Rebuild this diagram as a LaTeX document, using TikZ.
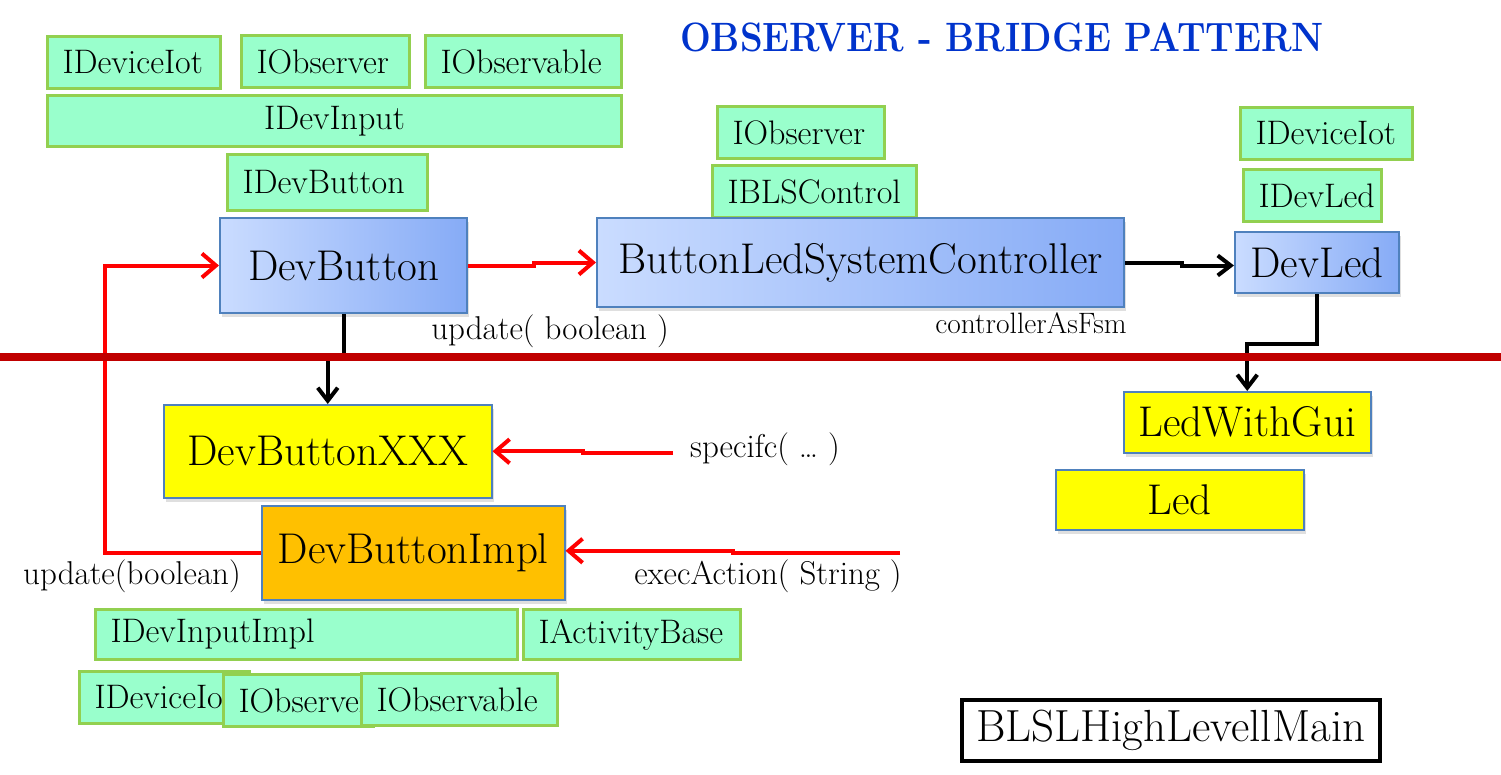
\documentclass[tikz,border=0pt]{standalone}
\usetikzlibrary{arrows.meta,shadows}
\definecolor{ifcfill}{HTML}{99FFCC}
\definecolor{ifcline}{HTML}{92D050}
\definecolor{boxline}{HTML}{4F81BD}
\definecolor{blueL}{HTML}{CADCFF}
\definecolor{blueR}{HTML}{86ABF6}
\definecolor{devyellow}{HTML}{FFFF00}
\definecolor{devorange}{HTML}{FFC000}
\definecolor{barred}{HTML}{C00000}
\definecolor{titleblue}{HTML}{0033CC}
\newcommand\classfont{\fontsize{43}{48}\selectfont}
\newcommand\ifcfont{\fontsize{34}{38}\selectfont}
\newcommand\lblfont{\fontsize{33}{37}\selectfont}
\newcommand\notefont{\fontsize{29.5}{33}\selectfont}
\newcommand\titlefont{\fontsize{41}{46}\selectfont\bfseries}
\begin{document}
\begin{tikzpicture}[x=1pt, y=-1pt,
  iface/.style={draw=ifcline, fill=ifcfill, line width=3pt, anchor=north west, inner xsep=15pt, inner ysep=0pt, minimum height=52pt, align=left, font=\ifcfont},
  devbox/.style={draw=boxline, line width=2pt, anchor=north west, inner sep=0pt, font=\classfont, drop shadow={shadow xshift=2pt, shadow yshift=-4pt, opacity=0.25}},
  blue node/.style={devbox, left color=blueL, right color=blueR},
  yellow node/.style={devbox, fill=devyellow, line width=1.5pt},
  orange node/.style={devbox, fill=devorange, line width=1.5pt},
  main box/.style={draw=black, line width=3.5pt, fill=white, anchor=north west, inner sep=0pt, font=\fontsize{45}{50}\selectfont},
  redarrow/.style={draw=red, line width=4pt, -{Straight Barb[length=14pt,width=24pt]}},
  blackarrow/.style={draw=black, line width=4pt, -{Straight Barb[length=13pt,width=20pt]}},
  lbl/.style={font=\lblfont, inner sep=0pt}]
  \useasboundingbox (0,0) rectangle (1501,774);

  \node[font=\titlefont, text=titleblue] at (1002,37) (title) {\scalebox{0.89}[1]{OBSERVER - BRIDGE PATTERN}};

  \node[iface, text width=143pt] at (46,35) (ifcIotA) {IDeviceIot};
  \node[iface, text width=138pt] at (240,34) (ifcObsA) {IObserver};
  \node[iface, text width=166pt] at (424,34) (ifcObvA) {IObservable};
  \node[iface, text width=544pt, align=center, minimum height=51pt] at (46,94) (ifcInput) {IDevInput};
  \node[iface, text width=170pt, minimum height=56pt] at (226,153) (ifcButton) {IDevButton};
  \node[iface, text width=137pt] at (716,105) (ifcObsB) {IObserver};
  \node[iface, text width=174pt] at (711,164) (ifcControl) {IBLSControl};
  \node[iface, text width=142pt] at (1239,106) (ifcIotB) {IDeviceIot};
  \node[iface, text width=108pt] at (1242,168) (ifcLed) {IDevLed};

  \node[blue node, minimum width=247pt, minimum height=95pt] at (219,217) (devbutton) {DevButton};
  \node[blue node, minimum width=527pt, minimum height=89pt] at (596,217) (controller) {ButtonLedSystemController};
  \node[blue node, minimum width=164pt, minimum height=61pt] at (1234,231) (devled) {DevLed};
  \node[yellow node, minimum width=328pt, minimum height=93pt] at (163,404) (devxxx) {DevButtonXXX};
  \node[orange node, minimum width=303pt, minimum height=94pt] at (261,505) (devimpl) {DevButtonImpl};
  \node[yellow node, minimum width=247pt, minimum height=61pt] at (1123,391) (ledgui) {LedWithGui};
  \node[yellow node, minimum width=248pt, minimum height=60pt] at (1055,469) (led) {Led};
  \node[main box, minimum width=418pt, minimum height=61pt] at (960,698) (mainbox) {BLSLHighLevellMain};

  \node[iface, text width=392pt, minimum height=50pt] at (94,608) (ifcInputImpl) {IDevInputImpl};
  \node[iface, text width=187pt, minimum height=50pt] at (522,608) (ifcActivity) {IActivityBase};
  \node[iface, text width=140pt] at (78,670) (ifcIotC) {IDeviceIot};
  \node[iface, text width=120pt] at (222,673) (ifcObsC) {IObserver};
  \node[iface, text width=166pt] at (360,672) (ifcObvC) {IObservable};

  \coordinate (specin) at (673,453);
  \coordinate (execin) at (900,553);

  \draw[redarrow] (devimpl.west) -- ++(-156,0) |- (devbutton.west);
  \draw[redarrow] (devbutton.east) -- ++(66,0) |- (controller.west);
  \draw[blackarrow] (controller.east) -- ++(57,0) |- ([yshift=-3pt]devled.west);
  \draw[blackarrow] (devled.south) -- ++(0,50) -| (ledgui.north);
  \draw[blackarrow] (devbutton.south) -- ++(0,45) -| (devxxx.north);
  \draw[redarrow] (specin) -- ++(-90,0) |- (devxxx.east);
  \draw[redarrow] (execin) -- ++(-167,0) |- ([yshift=2pt]devimpl.east);

  \draw[line width=8pt, barred] (0,357) -- (1501,357);

  \node[lbl] at (550,331) (updlbl) {update( boolean )};
  \node[font=\notefont, inner sep=0pt] at (1031,323) (fsmlbl) {controllerAsFsm};
  \node[lbl] at (765,449) (speclbl) {specifc( \dots\ )};
  \node[lbl] at (768,576) (execlbl) {execAction( String )};
  \node[lbl] at (132,576) (updlblB) {update(boolean)};
\end{tikzpicture}
\end{document}
